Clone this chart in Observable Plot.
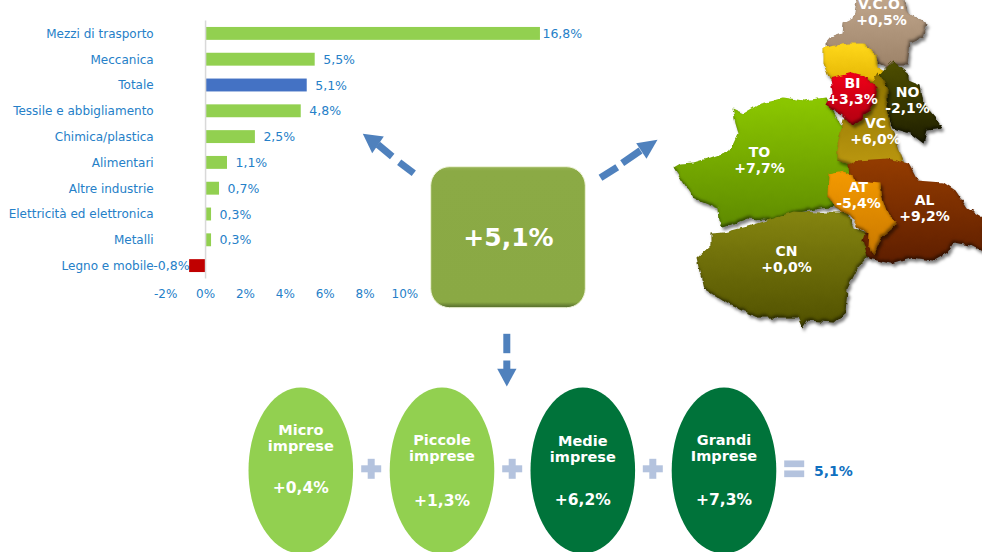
<!DOCTYPE html>
<html><head><meta charset="utf-8">
<script src="https://cdn.jsdelivr.net/npm/d3@7"></script>
<script src="https://cdn.jsdelivr.net/npm/@observablehq/plot@0.6"></script>
<style>
html,body{margin:0;padding:0;background:#fff;overflow:hidden}
#wrap{position:relative;width:982px;height:552px}
#wrap svg{position:absolute;left:0;top:0;background:transparent;max-width:none}
</style></head><body><div id="wrap"></div>
<script>
// ---- chart data
const sectors = ["Mezzi di trasporto","Meccanica","Totale","Tessile e abbigliamento","Chimica/plastica","Alimentari","Altre industrie","Elettricità ed elettronica","Metalli","Legno e mobile"];
const sectorValues = [16.8,5.5,5.1,4.8,2.5,1.1,0.7,0.3,0.3,-0.8];
const xTicks = [-2,0,2,4,6,8,10];
const provinces = ["V.C.O.","BI","NO","VC","TO","AT","AL","CN"];
const provinceValues = ["+0,5%","+3,3%","-2,1%","+6,0%","+7,7%","-5,4%","+9,2%","+0,0%"];
const firmSizes = ["Micro\nimprese","Piccole\nimprese","Medie\nimprese","Grandi\nImprese"];
const firmValues = ["+0,4%","+1,3%","+6,2%","+7,3%"];
const totalLabel = "+5,1%";
const equalsLabel = "5,1%";

// ---- diagram geometry (schematic shapes, not data)
const regionShapes = {
  vco:[[857,-4],[902,-4],[908,13],[927,23],[923,37],[910,43],[907,64],[893,64],[887,68],[877,62],[863,52],[847,50],[826,50],[825,43],[830,37],[842,33],[843,22],[853,17]],
  ylw:[[823,47],[847,43],[863,43],[877,55],[877,67],[886,72],[886,88],[863,80],[850,80],[830,80],[823,63]],
  no:[[893,60],[908,72],[908,80],[920,85],[923,103],[935,117],[942,128],[927,130],[923,143],[910,133],[893,128],[884,107],[878,87],[878,76],[885,68]],
  to:[[783,97],[803,100],[825,97],[830,107],[840,123],[846,133],[846,147],[848,157],[860,163],[865,172],[860,195],[840,205],[828,207],[820,208],[793,213],[773,220],[747,218],[723,227],[718,220],[717,208],[693,198],[683,182],[673,167],[680,163],[693,162],[710,157],[730,150],[738,133],[735,123],[732,108],[743,113],[760,103],[773,100]],
  vc:[[877,72],[887,87],[887,107],[890,123],[900,153],[905,166],[887,168],[857,168],[837,160],[837,143],[840,132],[843,118],[860,100]],
  cn:[[723,232],[747,226],[773,218],[793,211],[820,212],[847,212],[853,227],[867,232],[870,252],[857,268],[847,288],[845,312],[833,322],[807,320],[802,328],[797,317],[757,317],[730,305],[703,288],[700,275],[696,258],[710,245],[710,233]],
  al:[[848,165],[857,160],[887,158],[908,163],[917,180],[943,182],[955,190],[967,208],[984,218],[984,252],[970,245],[953,242],[947,252],[933,260],[910,257],[890,263],[868,258],[862,240],[870,215],[850,190]],
  at:[[828,173],[843,170],[857,180],[880,182],[882,198],[887,213],[898,223],[887,232],[880,238],[873,255],[867,245],[868,232],[857,227],[850,215],[835,208],[827,195]],
  bi:[[830,78],[852,72],[863,75],[877,88],[873,103],[860,120],[852,126],[842,115],[825,105],[832,93]]
};
const labelSpots = [[881,11],[852,90],[907,99],[875,130],[759,159],[858,194],[924,207],[786,258]];
const ellipseCentres = [300.3,441.5,582.3,723.5];
const ellipseFills = ["#92D050","#92D050","#00733A","#00733A"];
const nameY = [437.5,447.5,448.5,447.5];
const valueY = [488,501,500,500];
const plusX = [370.7,511.7,652.3];
const dashes = [
  [[377.3,144],[391.7,156]],[[398.7,161.7],[413.3,172.7]],
  [[640,150],[621.7,162.7]],[[616.7,166.7],[600,177.3]],
  [[506.3,333.3],[506.3,352.7]],[[506.3,360],[506.3,369]]
];
const heads = [
  [[362.3,133.3],[383.3,136],[371.7,152.7]],
  [[657,139.3],[635.7,142.7],[646,158.3]],
  [[506.3,386],[496.7,368.3],[516,368.3]]
];

const FONT = "'DejaVu Sans', Verdana, sans-serif";
const BLUE = "#2580C8";
const rows = sectors.map((s,i)=>({s,v:sectorValues[i]}));
const fmt = v => `${String(Math.abs(v).toFixed(1)).replace(".",",")}%`;
const barFill = d => d.s==="Totale" ? "#4472C4" : d.v<0 ? "#C00000" : "#92D050";

// ---- bar chart
const bars = Plot.plot({
  width:982,height:552,marginTop:20.5,marginBottom:273.5,marginLeft:165.2,marginRight:577.6,
  style:{fontFamily:FONT,background:"transparent",overflow:"visible"},
  x:{domain:[-2,10]},
  y:{domain:sectors,paddingInner:0.5,paddingOuter:0.25,align:0.5,round:false},
  marks:[
    Plot.barX(rows,{x:"v",y:"s",fill:barFill}),
    Plot.ruleX([0],{stroke:"#D9D9D9",strokeWidth:1.5}),
    Plot.text(rows.filter(d=>d.v>=0&&d.v<10),{x:"v",y:"s",text:d=>fmt(d.v),textAnchor:"start",dx:8,fill:BLUE,fontSize:12.5}),
    Plot.text(rows.filter(d=>d.v>=10),{x:"v",y:"s",text:d=>fmt(d.v),textAnchor:"start",dx:2,fill:BLUE,fontSize:12.5}),
    Plot.text(rows.filter(d=>d.v<0),{x:"v",y:"s",text:d=>"-"+fmt(d.v),textAnchor:"end",dx:0,fill:BLUE,fontSize:12.5}),
    Plot.axisY({anchor:"left",tickSize:0,tickPadding:12,label:null,fontSize:12,color:BLUE,tickFormat:d=>d}),
    Plot.axisX({ticks:xTicks,anchor:"bottom",tickSize:0,tickPadding:10,label:null,fontSize:12,color:BLUE,tickFormat:d=>`${d}%`})
  ]
});

// ---- diagram overlay
const regionFx = {to:"url(#gTO)",cn:"url(#gCN)",al:"url(#gAL)",at:"url(#gAT)",vc:"url(#gVC)",ylw:"url(#gYL)",no:"url(#gNO)",bi:"url(#gBI)",vco:"url(#gVCO)"};
const order = ["vco","ylw","no","to","vc","cn","al","at","bi"];
const rough = (index,scales,values,dims,ctx,next)=>{const g=next(index,scales,values,dims,ctx);g.setAttribute("filter","url(#bevel)");return g;};
const ellipsePts = cx => d3.range(0,72).map(i=>[cx+52.3*Math.cos(i/72*2*Math.PI),470+83*Math.sin(i/72*2*Math.PI)]);
const txt = {x:d=>d.x,y:d=>d.y,text:d=>d.t,fill:"#fff",fontWeight:"bold",textAnchor:"middle",lineAnchor:"middle"};
const seg = {x:d=>d[0],y:d=>d[1],stroke:"#B4C3DE",strokeLinecap:"butt"};

const overlay = Plot.plot({
  width:982,height:552,margin:0,
  style:{fontFamily:FONT,background:"transparent"},
  x:{domain:[0,982],range:[0,982],axis:null},
  y:{domain:[0,552],range:[0,552],axis:null},
  marks:[
    ...order.map(k=>Plot.line(regionShapes[k],{x:d=>d[0],y:d=>d[1],curve:"linear-closed",fill:regionFx[k],stroke:"none",render:rough})),
    Plot.text(provinces.map((n,i)=>({x:labelSpots[i][0],y:labelSpots[i][1],t:n+"\n"+provinceValues[i]})),{...txt,fontSize:14,lineHeight:1.14}),
    Plot.rect([0],{x1:()=>430.7,x2:()=>585.3,y1:()=>166.7,y2:()=>307.7,rx:19,ry:19,fill:"url(#gBox)",stroke:"#EEF3D8",strokeWidth:1}),
    Plot.text([{x:508,y:237,t:totalLabel}],{...txt,fontSize:25}),
    ...dashes.map(s=>Plot.line(s,{x:d=>d[0],y:d=>d[1],stroke:"#4F81BD",strokeWidth:7,strokeLinecap:"butt"})),
    ...heads.map(h=>Plot.line(h,{x:d=>d[0],y:d=>d[1],curve:"linear-closed",fill:"#4F81BD",stroke:"none"})),
    ...ellipseCentres.map((cx,i)=>Plot.line(ellipsePts(cx),{x:d=>d[0],y:d=>d[1],curve:"linear-closed",fill:ellipseFills[i],stroke:"none"})),
    Plot.text(firmSizes.map((n,i)=>({x:ellipseCentres[i],y:nameY[i],t:n})),{...txt,fontSize:14.5,lineHeight:1.1}),
    Plot.text(firmValues.map((n,i)=>({x:ellipseCentres[i],y:valueY[i],t:n})),{...txt,fontSize:15.5}),
    ...plusX.flatMap(x=>[
      Plot.line([[x-10,468.3],[x+10,468.3]],{...seg,strokeWidth:7}),
      Plot.line([[x,458.3],[x,478.3]],{...seg,strokeWidth:7})
    ]),
    Plot.line([[783.7,463.3],[803.7,463.3]],{...seg,strokeWidth:6.7}),
    Plot.line([[783.7,473.3],[803.7,473.3]],{...seg,strokeWidth:6.7}),
    Plot.text([{x:813.5,y:471,t:equalsLabel}],{...txt,fill:"#0F70C0",fontSize:14,textAnchor:"start"})
  ]
});

// gradients and bevel filter used by the overlay
const grads = {gTO:["#8CC800","#5E8A00"],gCN:["#858510","#505000"],gAL:["#943C00","#5E1E00"],gAT:["#F59A00","#C87800"],gVC:["#8C7200","#BC9810"],gYL:["#FFD81A","#E0B000"],gNO:["#505000","#1E1E00"],gBI:["#F00018","#B00010"],gVCO:["#C0A68C","#9C8268"]};
const d = d3.select(overlay).insert("defs",":first-child");
Object.entries(grads).forEach(([id,[a,b]])=>{
  const g=d.append("linearGradient").attr("id",id).attr("x1",0).attr("y1",0).attr("x2",0).attr("y2",1);
  g.append("stop").attr("offset",0).attr("stop-color",a);
  g.append("stop").attr("offset",1).attr("stop-color",b);
});
const box=d.append("linearGradient").attr("id","gBox").attr("x1",0).attr("y1",0).attr("x2",0).attr("y2",1);
[[0,"#97B455"],[0.03,"#8BAA45"],[0.96,"#8AA944"],[0.99,"#5F7830"],[1,"#55702A"]].forEach(([o,c])=>box.append("stop").attr("offset",o).attr("stop-color",c));
d.html(d.html()+`
<filter id="bevel" x="-15%" y="-15%" width="130%" height="130%" color-interpolation-filters="sRGB">
  <feTurbulence type="fractalNoise" baseFrequency="0.13" numOctaves="2" seed="4" result="n"/>
  <feDisplacementMap in="SourceGraphic" in2="n" scale="5" xChannelSelector="R" yChannelSelector="G" result="s"/>
  <feGaussianBlur in="s" stdDeviation="1.6" result="b"/>
  <feOffset in="b" dx="2" dy="3" result="o"/>
  <feFlood flood-color="#000" flood-opacity="0.5" result="k"/>
  <feComposite in="k" in2="o" operator="in" result="shadow"/>
  <feOffset in="b" dx="-0.8" dy="-1.6" result="o2"/>
  <feComposite in="k" in2="o2" operator="out" result="edge"/>
  <feComposite in="edge" in2="s" operator="in" result="inner"/>
  <feMerge><feMergeNode in="shadow"/><feMergeNode in="s"/><feMergeNode in="inner"/></feMerge>
</filter>`);

const wrap=document.getElementById("wrap");
wrap.append(bars,overlay);
</script></body></html>
